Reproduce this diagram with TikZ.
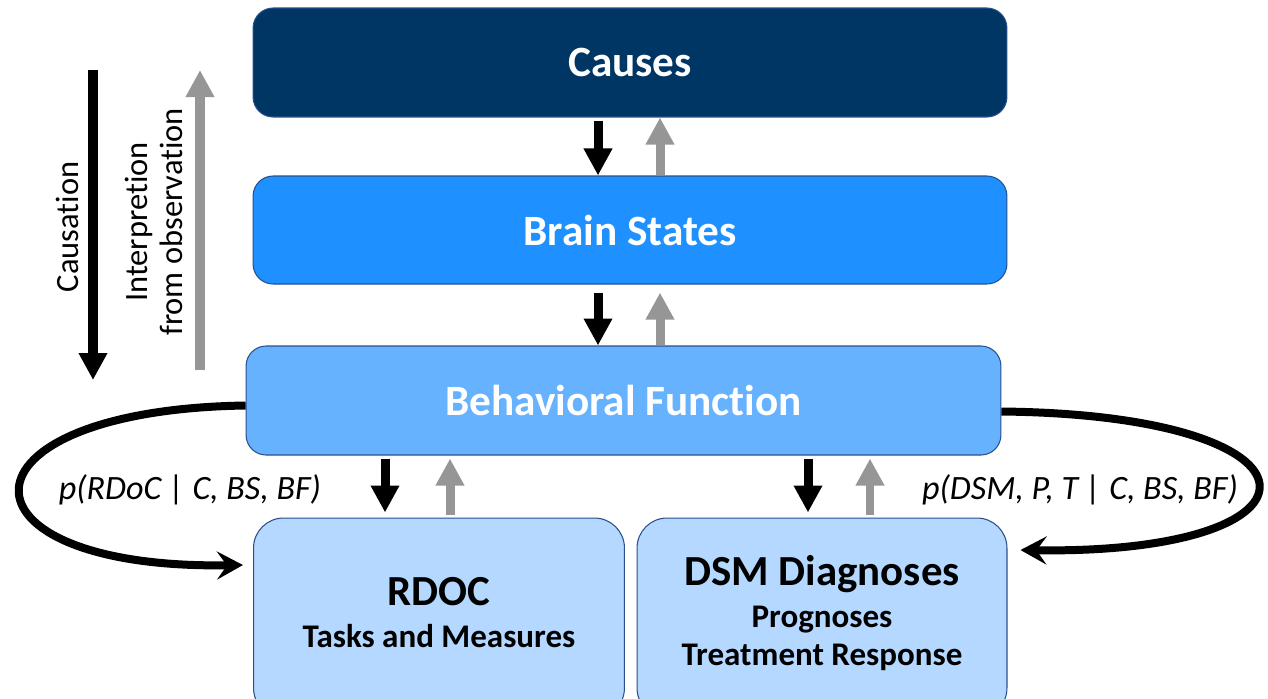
\documentclass[tikz,border=0pt]{standalone}
\usepackage{fontspec}
\setmainfont[Ligatures=NoCommon]{Carlito}
\usetikzlibrary{arrows.meta, calc, positioning}
\definecolor{causecol}{RGB}{0,54,100}
\definecolor{braincol}{RGB}{30,144,255}
\definecolor{behavcol}{RGB}{102,178,255}
\definecolor{taskcol}{RGB}{180,216,255}
\definecolor{edgecol}{RGB}{40,80,140}
\definecolor{obscol}{RGB}{150,150,150}

\begin{document}
\begin{tikzpicture}[x=0.02cm, y=-0.02cm,
    level/.style={draw=edgecol, line width=0.6pt, rounded corners=0.4cm, minimum width=15.08cm,
      minimum height=2.18cm, inner sep=0pt, text=white, font=\bfseries\fontsize{24.6}{28}\selectfont},
    outcome/.style={draw=edgecol, line width=0.6pt, fill=taskcol, rounded corners=0.6cm,
      minimum width=7.42cm, minimum height=4cm, inner sep=0pt},
    outtitle/.style={anchor=base, inner sep=0pt, font=\bfseries\fontsize{24.4}{28}\selectfont},
    outsub/.style={anchor=base, inner sep=0pt, font=\bfseries\fontsize{18.8}{22}\selectfont},
    side/.style={rotate=90, inner sep=0pt, align=center, font=\fontsize{18.5}{20}\selectfont},
    prob/.style={inner sep=0pt, font=\itshape\fontsize{19.4}{22}\selectfont},
    dn/.style={line width=0.18cm, -{Triangle[width=0.54cm,length=0.54cm]}, black},
    up/.style={dn, draw=obscol},
    loopback/.style={line width=0.16cm, -{Stealth[width=0.56cm,length=0.52cm,inset=0.2cm]}}]
  \useasboundingbox (0,0) rectangle (1268,698);
  \clip (0,0) rectangle (1268,698);

  % levels of explanation
  \node[level, fill=causecol] (causes) at (630,62.5) {Causes};
  \node[level, fill=braincol, minimum height=2.16cm] (brain) at (630,230) {Brain States};
  \node[level, fill=behavcol, minimum width=15.1cm] (behav) at (623.5,400.5) {Behavioral Function};
  \node[outcome] (rdoc) at (439,618) {};
  \node[outcome, minimum width=7.4cm] (dsm) at (822,618) {};

  \node[outtitle] (rdoctitle) at ([yshift=-1.76cm]rdoc.north) {RDOC};
  \node[outsub] (rdocsub) at ([yshift=-2.6cm]rdoc.north) {Tasks and Measures};
  \node[outtitle] (dsmtitle) at ([yshift=-1.36cm]dsm.north) {DSM Diagnoses};
  \node[outsub] (dsmsub) at ([yshift=-2.2cm]dsm.north) {Prognoses};
  \node[outsub] (dsmsubb) at ([yshift=-2.96cm]dsm.north) {Treatment Response};

  % arrows between levels
  \draw[dn, shorten <=0.06cm] ([xshift=-0.64cm]causes.south) -- ([xshift=-0.64cm]brain.north);
  \draw[up] ([xshift=0.6cm]brain.north) -- ([xshift=0.6cm]causes.south);
  \draw[dn, shorten <=0.16cm] ([xshift=-0.64cm]brain.south) -- ([xshift=-0.64cm]brain.south |- behav.north);
  \draw[up, shorten >=0.16cm] ([xshift=0.6cm]brain.south |- behav.north) -- ([xshift=0.6cm]brain.south);
  \draw[dn, shorten <=0.06cm, shorten >=0.1cm] ([xshift=-1.08cm]rdoc.north |- behav.south) -- ([xshift=-1.08cm]rdoc.north);
  \draw[up, shorten <=0.06cm, shorten >=0.06cm] ([xshift=0.22cm]rdoc.north) -- ([xshift=0.22cm]rdoc.north |- behav.south);
  \draw[dn, shorten <=0.06cm, shorten >=0.1cm] ([xshift=-0.28cm]dsm.north |- behav.south) -- ([xshift=-0.28cm]dsm.north);
  \draw[up, shorten <=0.06cm, shorten >=0.06cm] ([xshift=0.96cm]dsm.north) -- ([xshift=0.96cm]dsm.north |- behav.south);

  % direction of reasoning
  \coordinate (caustop) at (93,70);
  \coordinate (causbot) at (93,380);
  \coordinate (obsbot) at (200,370);
  \coordinate (obstop) at (200,70);
  \draw[dn, line width=0.2cm] (caustop) -- (causbot);
  \draw[up, line width=0.2cm] (obsbot) -- (obstop);
  \node[side] (causlbl) at (67,227) {Causation};
  \node[side] (interlbl) at (154,222) {Interpretion\\from observation};

  % predictive links
  \draw[loopback] ([yshift=-0.1cm]behav.west) .. controls (-54,410) and (-54,570) .. ([shift={(-0.2cm,1.06cm)}]rdoc.west);
  \draw[loopback] ([yshift=-0.22cm]behav.east) .. controls (1340,415) and (1340,555) .. ([shift={(0.26cm,1.36cm)}]dsm.east);
  \node[prob] (rdocprob) at (190,490) {p(RDoC | C, BS, BF)};
  \node[prob] (dsmprob) at (1080,490) {p(DSM, P, T | C, BS, BF)};
\end{tikzpicture}
\end{document}
